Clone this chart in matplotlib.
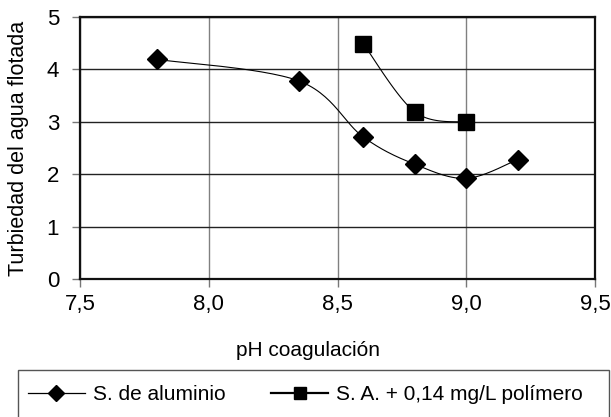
import numpy as np
import matplotlib
matplotlib.use("Agg")
import matplotlib.pyplot as plt
from matplotlib.lines import Line2D
from matplotlib.patches import Rectangle

plt.rcParams["font.family"] = ["Liberation Sans", "DejaVu Sans"]

# data
ph_al = [7.8, 8.35, 8.6, 8.8, 9.0, 9.2]
turb_al = [4.19, 3.78, 2.71, 2.19, 1.92, 2.28]
ph_pol = [8.6, 8.8, 9.0]
turb_pol = [4.49, 3.19, 2.99]

label_al = "S. de aluminio"
label_pol = "S. A. + 0,14 mg/L polímero"
xticks = [7.5, 8.0, 8.5, 9.0, 9.5]
yticks = [0, 1, 2, 3, 4, 5]


def smooth(x, y, n=30):
    """Excel-like smoothed line (Catmull-Rom Bezier through the points)."""
    x = np.asarray(x, float)
    y = np.asarray(y, float)
    px = np.concatenate([[x[0]], x, [x[-1]]])
    py = np.concatenate([[y[0]], y, [y[-1]]])
    xs, ys = [], []
    t = np.linspace(0, 1, n)
    for i in range(1, len(px) - 2):
        p0x, p1x, p2x, p3x = px[i - 1], px[i], px[i + 1], px[i + 2]
        p0y, p1y, p2y, p3y = py[i - 1], py[i], py[i + 1], py[i + 2]
        c1x, c1y = p1x + (p2x - p0x) / 6, p1y + (p2y - p0y) / 6
        c2x, c2y = p2x - (p3x - p1x) / 6, p2y - (p3y - p1y) / 6
        b = [(1 - t) ** 3, 3 * (1 - t) ** 2 * t, 3 * (1 - t) * t ** 2, t ** 3]
        xs.append(b[0] * p1x + b[1] * c1x + b[2] * c2x + b[3] * p2x)
        ys.append(b[0] * p1y + b[1] * c1y + b[2] * c2y + b[3] * p2y)
    return np.concatenate(xs), np.concatenate(ys)


fig = plt.figure(figsize=(6.11, 4.17), dpi=100)
ax = fig.add_axes([80 / 611, 1 - 279 / 417, 515 / 611, 262 / 417])

sx, sy = smooth(ph_al, turb_al)
ax.plot(sx, sy, color="black", lw=0.8, zorder=3)
ax.plot(ph_al, turb_al, ls="none", marker="D", ms=10, color="black", zorder=4)

sx, sy = smooth(ph_pol, turb_pol)
ax.plot(sx, sy, color="black", lw=0.8, zorder=3)
ax.plot(ph_pol, turb_pol, ls="none", marker="s", ms=11, color="black", zorder=4)

ax.set_xlim(7.5, 9.5)
ax.set_ylim(0, 5)
ax.set_xticks(xticks)
ax.set_yticks(yticks)
ax.set_xticklabels([f"{v:.1f}".replace(".", ",") for v in xticks])
ax.set_yticklabels([str(v) for v in yticks])
ax.tick_params(axis="both", labelsize=16, length=6, width=1, color="#777777",
               direction="out")
ax.tick_params(axis="y", pad=9)
ax.tick_params(axis="x", pad=5)

ax.xaxis.grid(True, color="#808080", lw=1)
ax.yaxis.grid(True, color="#222222", lw=1)
ax.set_axisbelow(True)
for side in ["left", "bottom", "right", "top"]:
    ax.spines[side].set_color("#111111")
    ax.spines[side].set_linewidth(1.6)

ax.set_ylabel("Turbiedad del agua flotada", fontsize=15.5)
ax.yaxis.set_label_coords(-51 / 515, 0.5)
fig.text(308 / 611, 1 - 351 / 417, "pH coagulación", fontsize=15,
         ha="center", va="center")

# legend box
fig.patches.append(Rectangle((18 / 611, -0.02), 591 / 611, (417 - 370) / 417 + 0.02,
                             transform=fig.transFigure, fill=False,
                             edgecolor="#555555", lw=1))
handles = [
    Line2D([], [], color="black", lw=0.9, marker="D", ms=8),
    Line2D([], [], color="black", lw=1.6, marker="s", ms=9),
]
fig.legend(handles, [label_al, label_pol], ncol=2, frameon=False,
           loc="center left", bbox_to_anchor=(20 / 611, 1 - 395 / 417),
           fontsize=15, handlelength=2.7, handletextpad=0.4,
           columnspacing=2.2, borderaxespad=0)

fig.savefig("out.png", dpi=100)
